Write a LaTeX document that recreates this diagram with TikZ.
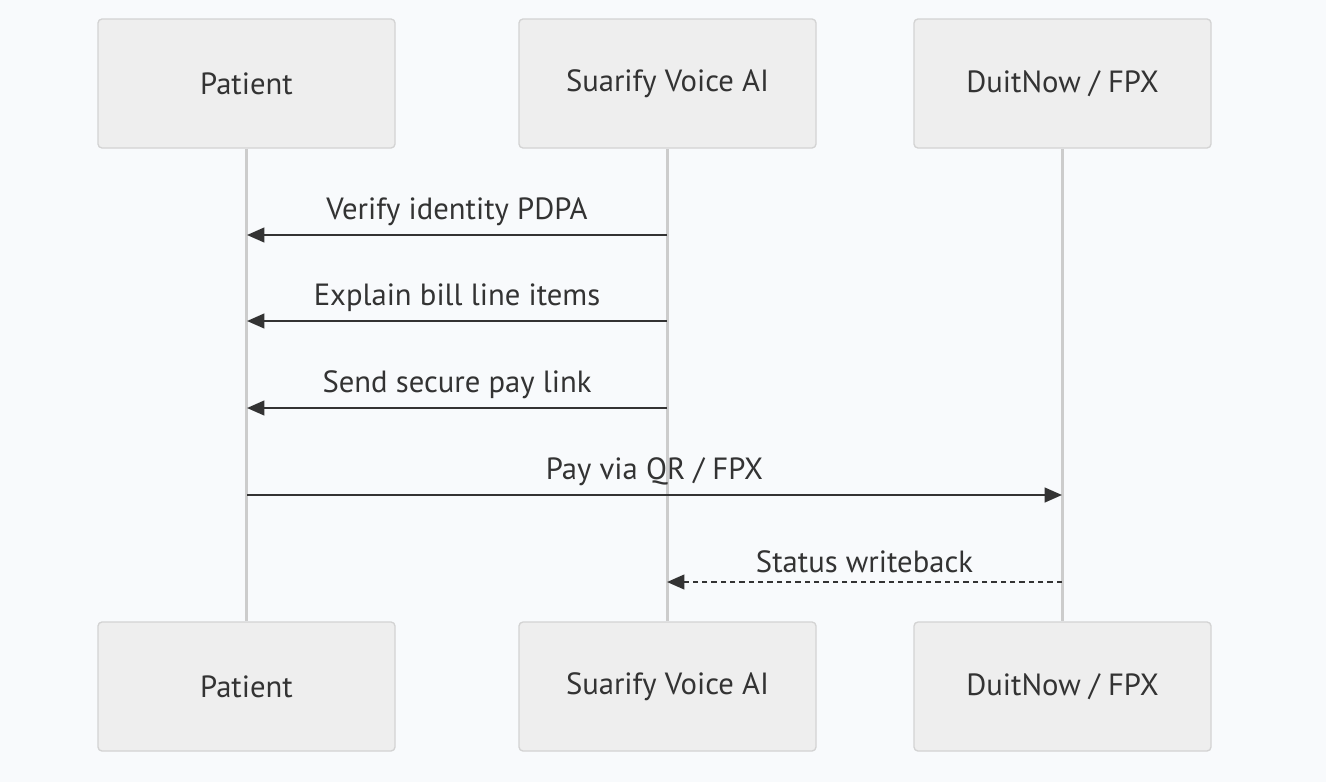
\documentclass[tikz,border=0pt]{standalone}
\usepackage{fontspec}
\setmainfont{PT Sans}
\usetikzlibrary{arrows.meta}
\definecolor{bg}{HTML}{F8FAFC}
\definecolor{boxfill}{HTML}{EEEEEE}
\definecolor{boxline}{HTML}{D3D3D3}
\definecolor{life}{HTML}{CCCCCC}
\definecolor{msg}{HTML}{333333}
\tikzset{
    actor/.style={draw=boxline, fill=boxfill, rounded corners=3pt, line width=1pt,
        minimum width=222.75pt, minimum height=96.75pt, text=msg, font=\fontsize{23}{27}\selectfont},
    life/.style={draw=life, line width=2.2pt},
    msg/.style={draw=msg, line width=1.6pt, -{Triangle[length=13pt,width=11pt]}},
    lbl/.style={text=msg, font=\fontsize{23}{27}\selectfont, above=3pt}
}
\begin{document}
\begin{tikzpicture}[x=0.75pt,y=-0.75pt]
    \fill[bg] (0,0) rectangle (1326,782);
    % actors
    \node[actor] (pt) at (246.5,83.5) {Patient};
    \node[actor] (ai) at (667.5,83.5) {Suarify Voice AI};
    \node[actor] (dn) at (1062.5,83.5) {DuitNow / FPX};
    \node[actor] (ptb) at (246.5,686.5) {Patient};
    \node[actor] (aib) at (667.5,686.5) {Suarify Voice AI};
    \node[actor] (dnb) at (1062.5,686.5) {DuitNow / FPX};
    % lifelines
    \draw[life] (pt) -- (ptb) (ai) -- (aib) (dn) -- (dnb);
    % messages
    \coordinate (p1) at (247,235); \coordinate (a1) at (667,235);
    \coordinate (p2) at (247,321); \coordinate (a2) at (667,321);
    \coordinate (p3) at (247,408); \coordinate (a3) at (667,408);
    \coordinate (p4) at (247,495); \coordinate (d4) at (1062,495);
    \coordinate (a5) at (667,582); \coordinate (d5) at (1062,582);
    \draw[msg] (a1) -- node[lbl] {Verify identity PDPA} (p1);
    \draw[msg] (a2) -- node[lbl] {Explain bill line items} (p2);
    \draw[msg] (a3) -- node[lbl] {Send secure pay link} (p3);
    \draw[msg] (p4) -- node[lbl] {Pay via QR / FPX} (d4);
    \draw[msg, dash pattern=on 4pt off 3pt] (d5) -- node[lbl] {Status writeback} (a5);
\end{tikzpicture}
\end{document}
